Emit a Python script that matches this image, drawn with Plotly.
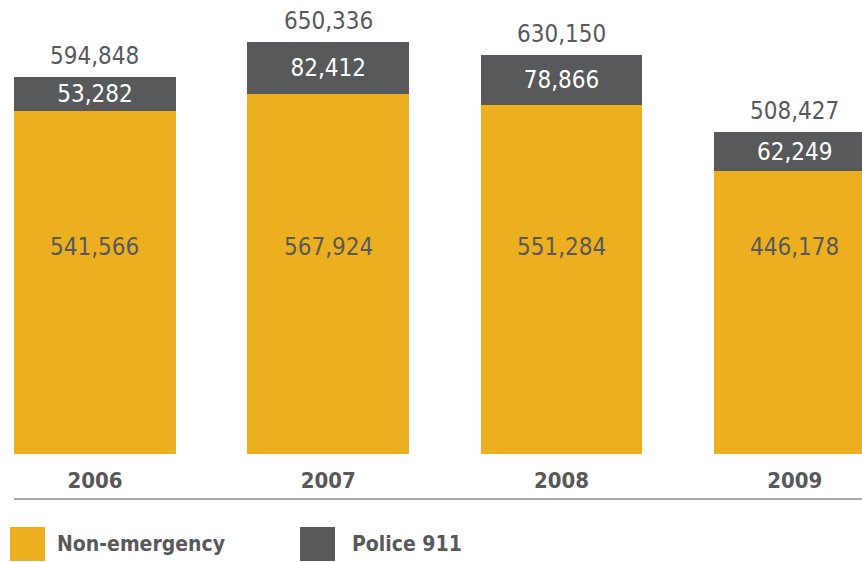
import plotly.graph_objects as go

years = ["2006", "2007", "2008", "2009"]
non_emergency = [541566, 567924, 551284, 446178]
police_911 = [53282, 82412, 78866, 62249]
totals = [594848, 650336, 630150, 508427]
series_names = ["Non-emergency", "Police 911"]

ORANGE = "#ECAF1F"
GRAY = "#58595B"
FONT = "DejaVu Sans Condensed, Liberation Sans Narrow, sans-serif"
NUM_SIZE = 24
BOLD_SIZE = 22

W, H = 862, 562
plot_bottom = 454

fig = go.Figure()
fig.add_trace(go.Bar(
    x=years, y=non_emergency, name=series_names[0],
    marker=dict(color=ORANGE, line=dict(width=0)),
    hoverinfo="skip",
))
fig.add_trace(go.Bar(
    x=years, y=police_911, name=series_names[1],
    marker=dict(color=GRAY, line=dict(width=0)),
    text=[f"{v:,}" for v in police_911],
    textposition="inside", insidetextanchor="middle",
    constraintext="none",
    textfont=dict(family=FONT, size=NUM_SIZE, color="white"),
    hoverinfo="skip",
))

# totals above bars (x given as category index)
for i, t in enumerate(totals):
    fig.add_annotation(x=i, y=t, text=f"{t:,}", showarrow=False,
                       yanchor="bottom", yshift=5,
                       font=dict(family=FONT, size=NUM_SIZE, color=GRAY))
# non-emergency labels inside orange
for i, v in enumerate(non_emergency):
    fig.add_annotation(x=i, y=1 - 247 / plot_bottom, yref="paper", text=f"{v:,}",
                       showarrow=False, yanchor="middle",
                       font=dict(family=FONT, size=NUM_SIZE, color=GRAY))

# baseline rule under year labels
rule_y = -(499 - plot_bottom) / plot_bottom
fig.add_shape(type="line", xref="paper", yref="paper", x0=14 / W, x1=1, y0=rule_y, y1=rule_y,
              line=dict(color="#A7A9AC", width=2))

# manual legend
leg_y0 = -(561 - plot_bottom) / plot_bottom
leg_y1 = -(527 - plot_bottom) / plot_bottom
for (x0, x1, tx), name, col in zip([(10, 45, 55), (300, 335, 350)], series_names, [ORANGE, GRAY]):
    fig.add_shape(type="rect", xref="paper", yref="paper", x0=x0 / W, x1=x1 / W,
                  y0=leg_y0, y1=leg_y1, fillcolor=col, line=dict(width=0))
    fig.add_annotation(xref="paper", yref="paper", x=tx / W, y=(leg_y0 + leg_y1) / 2,
                       text=f"<b>{name}</b>", showarrow=False, xanchor="left", yanchor="middle",
                       font=dict(family=FONT, size=21, color=GRAY))

ymax = 650336 * plot_bottom / 412
fig.update_layout(
    barmode="stack", bargap=0.306,
    width=W, height=H,
    margin=dict(l=0, r=0, t=0, b=H - plot_bottom, pad=0),
    paper_bgcolor="white", plot_bgcolor="white",
    showlegend=False,
    xaxis=dict(type="category", range=[-0.407, 3.288], showgrid=False, zeroline=False,
               showline=False, ticks="", ticklabelstandoff=11,
               tickfont=dict(family=FONT, size=BOLD_SIZE, color=GRAY),
               tickprefix="<b>", ticksuffix="</b>"),
    yaxis=dict(range=[0, ymax], visible=False, showgrid=False, zeroline=False),
)
fig.write_html("out.html")
